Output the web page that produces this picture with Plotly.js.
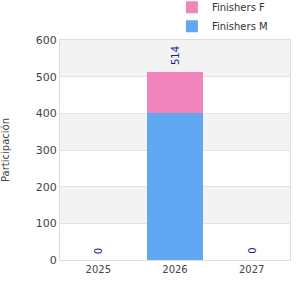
<!DOCTYPE html>
<html><head><meta charset="utf-8">
<script src="https://cdn.plot.ly/plotly-3.0.1.min.js"></script>
<style>body{margin:0}#c{width:300px;height:300px}</style>
</head><body><div id="c"></div>
<script>
const years = ['2025', '2026', '2027'];
const finishersM = [0, 400, 0];
const finishersF = [0, 114, 0];
const totals = years.map((_, i) => finishersM[i] + finishersF[i]);
const yTicks = [0, 100, 200, 300, 400, 500, 600];

const traces = [
  {type: 'bar', name: 'Finishers M', x: years, y: finishersM, marker: {color: '#60a8f2'}, hoverinfo: 'none'},
  {type: 'bar', name: 'Finishers F', x: years, y: finishersF, marker: {color: '#f284bc'}, hoverinfo: 'none'}
];

const bands = [];
for (let i = 0; i < yTicks.length - 1; i++) {
  if ((yTicks.length - 2 - i) % 2 === 0) {
    bands.push({type: 'rect', xref: 'paper', yref: 'y', x0: 0, x1: 1, y0: yTicks[i], y1: yTicks[i + 1],
      fillcolor: '#f3f3f3', line: {width: 0}, layer: 'below'});
  }
}

const annotations = years.map((yr, i) => ({
  x: i, y: totals[i], xref: 'x', yref: 'y', text: String(totals[i]), showarrow: false,
  textangle: -90, yanchor: 'bottom', yshift: 4, font: {family: 'DejaVu Sans, sans-serif', size: 10, color: '#1c1c8c'}
}));

const layout = {
  width: 300, height: 300,
  margin: {l: 60, r: 10, t: 40, b: 40, autoexpand: false},
  paper_bgcolor: '#ffffff', plot_bgcolor: '#ffffff',
  barmode: 'stack', bargap: 0.28,
  font: {family: 'DejaVu Sans, sans-serif', size: 10, color: '#444'},
  showlegend: true,
  legend: {x: 0.573, xanchor: 'left', xref: 'container', y: 1.215, yanchor: 'top', yref: 'paper', traceorder: 'reversed',
    font: {size: 10, color: '#333'}, bgcolor: 'rgba(0,0,0,0)', itemwidth: 30, tracegroupgap: 0},
  xaxis: {type: 'category', range: [-0.5, 2.5], showline: true, mirror: true, linecolor: '#dddddd', linewidth: 1,
    ticks: '', tickfont: {size: 10, color: '#444'}, showgrid: false},
  yaxis: {range: [0, 600], tickvals: yTicks, showline: true, mirror: true, linecolor: '#dddddd',
    gridcolor: '#e2e2e2', zeroline: false, ticks: '', tickfont: {size: 11, color: '#444'},
    title: {text: 'Participación', font: {size: 10, color: '#444'}, standoff: 26}},
  shapes: bands,
  annotations: annotations
};

Plotly.newPlot('c', traces, layout, {displayModeBar: false, staticPlot: true});
</script></body></html>
